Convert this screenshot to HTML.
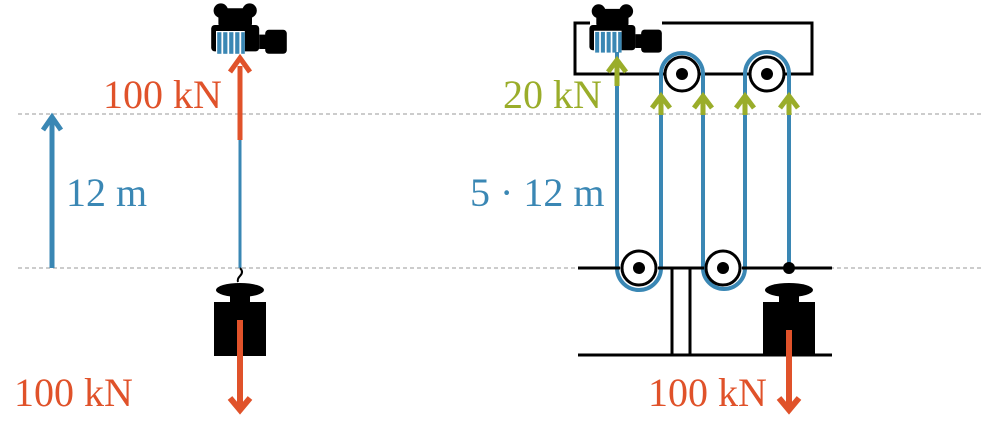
<!DOCTYPE html>
<html><head><meta charset="utf-8"><style>html,body{margin:0;padding:0;background:#fff}svg{display:block}</style></head><body>
<svg width="1000" height="426" viewBox="0 0 1000 426" xmlns="http://www.w3.org/2000/svg" font-family="Liberation Serif, serif">
<defs>
<g id="winch">
 <circle cx="-16" cy="-12" r="6" fill="#000"/><circle cx="8" cy="-12" r="6" fill="#000"/>
 <rect x="-18" y="-14" width="28" height="16" rx="3" fill="#000"/>
 <rect x="-24" y="0" width="40" height="22" rx="3" fill="#000"/>
 <rect x="-20" y="5" width="24" height="20" fill="#fff"/>
 <rect x="-19" y="6" width="3.5" height="18" fill="#3a87b4"/><rect x="-14" y="6" width="3.5" height="18" fill="#3a87b4"/><rect x="-9" y="6" width="3.5" height="18" fill="#3a87b4"/><rect x="-4" y="6" width="3.5" height="18" fill="#3a87b4"/><rect x="1" y="6" width="3" height="18" fill="#3a87b4"/>
 <rect x="16" y="8" width="6" height="12" fill="#000"/>
 <rect x="21" y="4" width="18" height="20" rx="3" fill="#000"/>
</g>
<g id="weight">
 <ellipse cx="0" cy="0" rx="24" ry="7" fill="#000"/>
 <rect x="-10" y="0" width="20" height="14" fill="#000"/>
 <rect x="-26" y="12" width="52" height="54" fill="#000"/>
</g>
</defs>
<g stroke="#999" stroke-width="1" stroke-dasharray="4,3">
 <line x1="18" y1="114" x2="982" y2="114"/><line x1="18" y1="268" x2="982" y2="268"/>
</g>
<!-- left -->
<use href="#winch" transform="translate(240,25) scale(1.2)"/>
<line x1="240" y1="140" x2="240" y2="268" stroke="#3a87b4" stroke-width="3"/>
<line x1="240" y1="140" x2="240" y2="66" stroke="#e0522a" stroke-width="5"/>
<polyline points="230,72 240,58 250,72" fill="none" stroke="#e0522a" stroke-width="5"/>
<path d="M240 268 q4 4 0 8 q-3 3 -2 6" fill="none" stroke="#000" stroke-width="2"/>
<use href="#weight" x="240" y="290"/>
<line x1="240" y1="320" x2="240" y2="406" stroke="#e0522a" stroke-width="6"/>
<polyline points="230,398 240,410 250,398" fill="none" stroke="#e0522a" stroke-width="6"/>
<line x1="52" y1="268" x2="52" y2="120" stroke="#3a87b4" stroke-width="5"/>
<polyline points="43,130 52,117 61,130" fill="none" stroke="#3a87b4" stroke-width="5"/>
<text x="103" y="108" font-size="40" fill="#e0522a">100 kN</text>
<text x="66" y="206" font-size="40" fill="#3a87b4">12 m</text>
<text x="14" y="406" font-size="40" fill="#e0522a">100 kN</text>
<!-- right -->
<polyline points="590,23 575,23 575,74 812,74 812,23 662,23" fill="none" stroke="#000" stroke-width="3"/>
<use href="#winch" transform="translate(617,25) scale(1.15)"/>
<g fill="none" stroke="#3a87b4" stroke-width="4">
 <path d="M617 52 V268 A22 22 0 0 0 661 268 V74 A21 21 0 0 1 703 74 V268 A21 21 0 0 0 745 268 V74 A22 22 0 0 1 789 74 V268"/>
</g>
<g fill="#fff" stroke="#000" stroke-width="3">
 <circle cx="682" cy="74" r="17"/><circle cx="767" cy="74" r="17"/>
 <circle cx="639" cy="268" r="17"/><circle cx="723" cy="268" r="17"/>
</g>
<g fill="#000"><circle cx="682" cy="74" r="6"/><circle cx="767" cy="74" r="6"/><circle cx="639" cy="268" r="6"/><circle cx="723" cy="268" r="6"/><circle cx="789" cy="268" r="6"/></g>
<g stroke="#000" stroke-width="3">
 <line x1="578" y1="268" x2="620" y2="268"/><line x1="658" y1="268" x2="704" y2="268"/><line x1="742" y1="268" x2="832" y2="268"/>
 <line x1="578" y1="355" x2="832" y2="355"/>
 <line x1="672" y1="268" x2="672" y2="355"/><line x1="690" y1="268" x2="690" y2="355"/>
</g>
<use href="#weight" x="789" y="290"/>
<line x1="789" y1="330" x2="789" y2="406" stroke="#e0522a" stroke-width="6"/>
<polyline points="779,398 789,410 799,398" fill="none" stroke="#e0522a" stroke-width="6"/>
<g fill="none" stroke="#9aad2a" stroke-width="5">
 <line x1="617" y1="86" x2="617" y2="62"/><polyline points="608,72 617,60 626,72"/>
 <line x1="661" y1="115" x2="661" y2="98"/><polyline points="652,108 661,96 670,108"/>
 <line x1="703" y1="115" x2="703" y2="98"/><polyline points="694,108 703,96 712,108"/>
 <line x1="745" y1="115" x2="745" y2="98"/><polyline points="736,108 745,96 754,108"/>
 <line x1="789" y1="115" x2="789" y2="98"/><polyline points="780,108 789,96 798,108"/>
</g>
<text x="503" y="108" font-size="40" fill="#9aad2a">20 kN</text>
<text x="470" y="206" font-size="40" fill="#3a87b4">5 · 12 m</text>
<text x="648" y="406" font-size="40" fill="#e0522a">100 kN</text>
</svg>
</body></html>
